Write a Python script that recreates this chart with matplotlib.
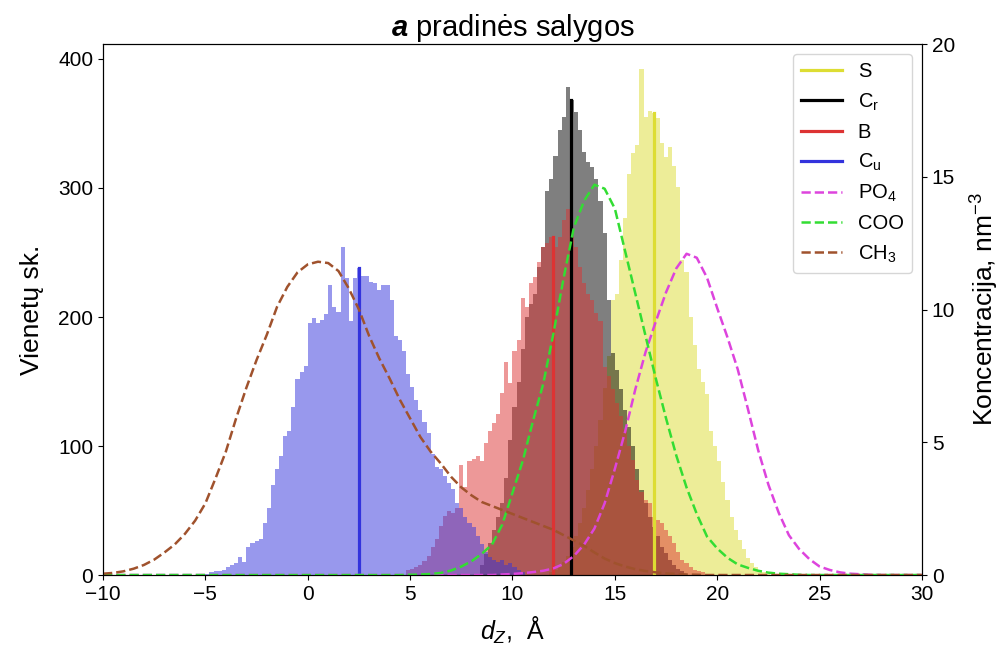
import numpy as np
import matplotlib
matplotlib.use("Agg")
import matplotlib.pyplot as plt

plt.rcParams['font.family'] = ['Liberation Sans', 'DejaVu Sans']
plt.rcParams['mathtext.fontset'] = 'custom'
plt.rcParams['mathtext.rm'] = 'Liberation Sans'
plt.rcParams['mathtext.it'] = 'Liberation Sans:italic'
plt.rcParams['mathtext.bf'] = 'Liberation Sans:bold'
plt.rcParams['mathtext.bfit'] = 'Liberation Sans:italic:bold'

# histogram counts, 0.2 A bins, first bin edge given per group
bin_w = 0.2
s_start, s_counts = 11.8, [
    2, 4, 6, 10, 15, 22, 30, 40, 52, 66,
    82, 100, 120, 145, 170, 213, 218, 244, 277, 311,
    327, 333, 392, 355, 360, 358, 354, 335, 324, 332,
    317, 301, 244, 235, 200, 178, 160, 150, 140, 112,
    100, 88, 72, 58, 45, 35, 27, 20, 13, 9,
    6, 4, 2, 1]
cr_start, cr_counts = 8.4, [
    8, 16, 25, 35, 45, 56, 75, 105,
    130, 150, 175, 200, 210, 218, 239, 254, 298, 307,
    325, 345, 355, 378, 368, 359, 345, 328, 320, 316,
    307, 290, 265, 213, 172, 159, 144, 128, 115, 100,
    82, 66, 56, 45, 37, 30, 22, 17, 12, 8,
    5, 3]
b_start, b_counts = 4.8, [
    4, 5, 6, 8, 11, 15, 22, 28, 38, 46,
    50, 48, 52, 85, 68, 88, 90, 92, 88, 102,
    112, 118, 125, 141, 165, 149, 174, 182, 215, 208,
    226, 231, 243, 254, 257, 262, 254, 262, 275, 284,
    262, 254, 239, 226, 218, 213, 203, 197, 161, 154,
    144, 133, 123, 113, 100, 89, 74, 64, 58, 56,
    45, 43, 40, 35, 30, 25, 18, 12, 9, 6,
    4, 3, 2]
cu_start, cu_counts = -5.0, [
    1, 2, 3, 3, 4, 6, 8, 9, 14, 10,
    22, 25, 26, 28, 40, 52, 70, 82, 92, 108,
    112, 130, 152, 157, 162, 195, 199, 195, 198, 202,
    225, 208, 204, 254, 230, 197, 230, 238, 232, 232,
    227, 226, 221, 225, 225, 213, 185, 182, 174, 156,
    146, 136, 128, 119, 110, 94, 84, 82, 77, 71,
    67, 56, 52, 45, 40, 37, 30, 24, 18, 14,
    12, 10, 12, 8, 9, 6, 4, 2]

# mean positions (vertical lines)
means = {'S': 16.9, 'Cr': 12.85, 'B': 12.0, 'Cu': 2.5}

# concentration profiles, nm^-3, on a 0.5 A grid from -10 to 30
z_grid = np.arange(-10, 30.01, 0.5)
po4 = [0, 0, 0, 0, 0, 0, 0, 0, 0, 0,
       0, 0, 0, 0, 0, 0, 0, 0, 0, 0,
       0, 0, 0, 0, 0, 0, 0, 0, 0, 0,
       0, 0, 0, 0, 0, 0, 0, 0, 0, 0.02,
       0.04, 0.07, 0.11, 0.16, 0.25, 0.42, 0.72, 1.15, 1.75, 2.7,
       4.0, 5.4, 7.0, 8.4, 9.55, 10.65, 11.55, 12.1, 11.95, 11.2,
       10.05, 8.95, 7.75, 6.25, 4.7, 3.4, 2.35, 1.5, 0.98, 0.6,
       0.32, 0.19, 0.1, 0.05, 0.03, 0.01, 0, 0, 0, 0,
       0]
coo = [0, 0, 0, 0, 0, 0, 0, 0, 0, 0,
       0, 0, 0, 0, 0, 0, 0, 0, 0, 0,
       0, 0, 0, 0, 0, 0, 0, 0, 0, 0,
       0.01, 0.02, 0.04, 0.08, 0.17, 0.32, 0.52, 0.8, 1.15, 1.9,
       3.1, 4.3, 5.8, 7.2, 9.1, 11.2, 13.1, 14.1, 14.7, 14.55,
       13.8, 12.2, 10.6, 9.0, 7.4, 5.9, 4.5, 3.3, 2.3, 1.45,
       1.0, 0.65, 0.4, 0.27, 0.16, 0.09, 0.05, 0.03, 0.01, 0,
       0, 0, 0, 0, 0, 0, 0, 0, 0, 0,
       0]
ch3 = [0.05, 0.08, 0.14, 0.24, 0.38, 0.58, 0.85, 1.15, 1.55, 2.05,
       2.7, 3.65, 4.65, 5.9, 7.05, 8.1, 9.05, 10.1, 10.85, 11.4,
       11.7, 11.8, 11.75, 11.45, 10.8, 10.0, 9.0, 8.15, 7.4, 6.6,
       5.9, 5.2, 4.65, 4.2, 3.7, 3.3, 3.0, 2.75, 2.6, 2.45,
       2.3, 2.15, 2.0, 1.85, 1.7, 1.5, 1.3, 1.1, 0.85, 0.62,
       0.45, 0.32, 0.22, 0.15, 0.1, 0.06, 0.04, 0.02, 0.01, 0,
       0, 0, 0, 0, 0, 0, 0, 0, 0, 0,
       0, 0, 0, 0, 0, 0, 0, 0, 0, 0,
       0]

groups = [
    ('S', 'S', s_start, s_counts, '#dddd33'),
    ('Cr', r'C$_\mathrm{r}$', cr_start, cr_counts, 'k'),
    ('B', 'B', b_start, b_counts, '#dd3333'),
    ('Cu', r'C$_\mathrm{u}$', cu_start, cu_counts, '#3333dd'),
]
profiles = [
    (r'PO$_4$', po4, '#dd44dd'),
    ('COO', coo, '#33dd33'),
    (r'CH$_3$', ch3, '#a0522d'),
]

fig = plt.figure(figsize=(10.05, 6.53), dpi=100)
ax = fig.add_axes([0.1025, 0.1194, 0.8149, 0.8132])

handles = []
for key, label, start, counts, color in groups:
    counts = np.array(counts, dtype=float)
    edges = start + bin_w * np.arange(len(counts) + 1)
    ax.stairs(counts, edges, fill=True, color=color, alpha=0.5, lw=0)
for key, label, start, counts, color in groups:
    m = means[key]
    idx = int((m - start) // bin_w)
    h, = ax.plot([m, m], [0, counts[idx]], color=color, lw=2.3, label=label)
    handles.append(h)

ax.set_xlim(-10, 30)
ax.set_ylim(0, 411.6)
ax.set_yticks([0, 100, 200, 300, 400])
ax.set_xlabel(r'$d_Z$,  Å', fontsize=18, labelpad=8)
ax.set_ylabel('Vienetų sk.', fontsize=19, labelpad=10)
ax.set_title(r'$\mathbfit{a}$ pradinės salygos', fontsize=21, pad=2)
ax.tick_params(labelsize=15)

ax2 = ax.twinx()
for label, vals, color in profiles:
    h, = ax2.plot(z_grid, vals, '--', color=color, lw=1.8, label=label)
    handles.append(h)
ax2.set_ylim(0, 20)
ax2.set_yticks([0, 5, 10, 15, 20])
ax2.set_ylabel(r'Koncentracija, nm$^{-3}$', fontsize=19, labelpad=10)
ax2.tick_params(labelsize=15)

ax2.legend(handles=handles, loc='upper right', fontsize=14.5)

fig.savefig('out.png', dpi=100)
